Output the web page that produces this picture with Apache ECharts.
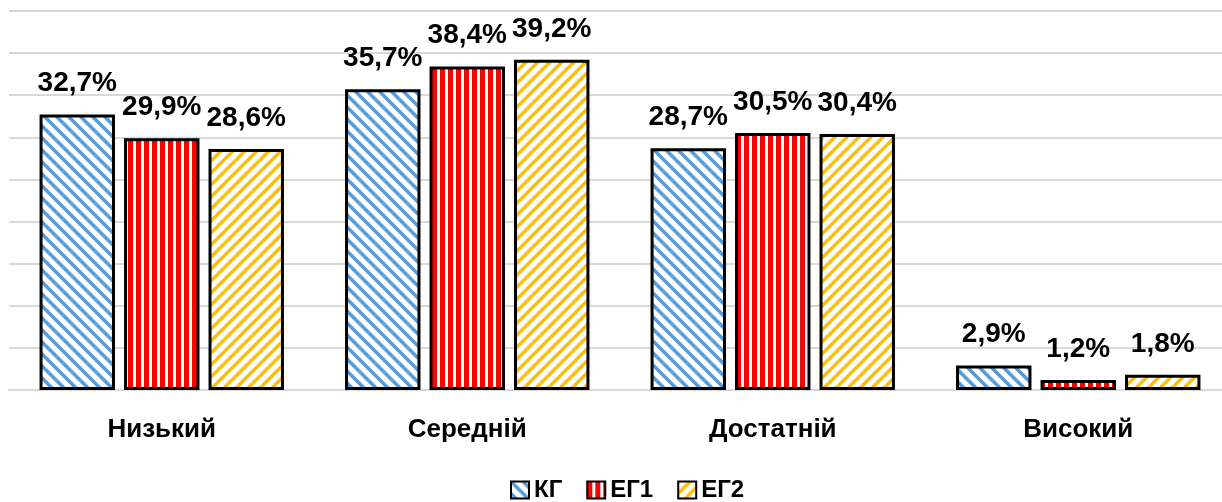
<!DOCTYPE html>
<html>
<head>
    <meta charset="utf-8">
    <title>Рівні</title>
    <script src="https://cdn.jsdelivr.net/npm/echarts@6/dist/echarts.min.js"></script>
    <style>
        html, body { margin: 0; padding: 0; background: #fff; overflow: hidden; }
        #chart1 { width: 1240px; height: 502px; }
    </style>
</head>
<body>
<div id="chart1"></div>
<script type="text/javascript">
    // дані з рисунка
    var categories = ['Низький', 'Середній', 'Достатній', 'Високий'];
    var seriesNames = ['КГ', 'ЕГ1', 'ЕГ2'];
    var kgValues = [32.7, 35.7, 28.7, 2.9];
    var eg1Values = [29.9, 38.4, 30.5, 1.2];
    var eg2Values = [28.6, 39.2, 30.4, 1.8];

    // штрихування як у Excel
    function diagPattern(color, back) {
        var s = 12;
        var c = document.createElement('canvas');
        c.width = s; c.height = s;
        var ctx = c.getContext('2d');
        ctx.fillStyle = '#fff';
        ctx.fillRect(0, 0, s, s);
        ctx.strokeStyle = color;
        ctx.lineWidth = 3.5;
        ctx.beginPath();
        if (back) {
            ctx.moveTo(-s, 0); ctx.lineTo(2 * s, 3 * s);
            ctx.moveTo(-s, -s); ctx.lineTo(2 * s, 2 * s);
            ctx.moveTo(0, -s); ctx.lineTo(3 * s, 2 * s);
        } else {
            ctx.moveTo(-s, s); ctx.lineTo(2 * s, -2 * s);
            ctx.moveTo(-s, 2 * s); ctx.lineTo(2 * s, -s);
            ctx.moveTo(0, 2 * s); ctx.lineTo(3 * s, -s);
        }
        ctx.stroke();
        return { image: c, repeat: 'repeat' };
    }
    function vertPattern(color) {
        var c = document.createElement('canvas');
        c.width = 8; c.height = 8;
        var ctx = c.getContext('2d');
        ctx.fillStyle = '#fff';
        ctx.fillRect(0, 0, 8, 8);
        ctx.fillStyle = color;
        ctx.fillRect(0, 0, 5, 8);
        return { image: c, repeat: 'repeat' };
    }

    var font = '"Liberation Sans", Arial, sans-serif';
    function pct(p) {
        return p.value.toFixed(1).replace('.', ',') + '%';
    }
    function makeSeries(name, data, fill) {
        return {
            name: name,
            type: 'bar',
            data: data,
            barGap: '12%',
            barCategoryGap: '20%',
            itemStyle: { color: fill, borderColor: '#000', borderWidth: 3 },
            label: {
                show: true,
                position: 'top',
                distance: 17,
                formatter: pct,
                color: '#000',
                fontFamily: font,
                fontWeight: 'bold',
                fontSize: 28
            }
        };
    }

    var myChart1 = echarts.init(document.getElementById('chart1'));
    myChart1.setOption({
        animation: false,
        backgroundColor: '#fff',
        grid: { left: 9, top: 11, right: 9, bottom: 112 },
        legend: {
            bottom: -5,
            left: 505,
            itemWidth: 18,
            itemHeight: 17,
            itemGap: 24,
            itemTextGap: 5,
            icon: 'rect',
            textStyle: { fontFamily: font, fontWeight: 'bold', fontSize: 24, color: '#000' },
            data: seriesNames
        },
        xAxis: {
            type: 'category',
            data: categories,
            axisLine: { lineStyle: { color: '#D9D9D9', width: 2 } },
            axisTick: { show: false },
            axisLabel: { margin: 27, color: '#000', fontFamily: font, fontWeight: 'bold', fontSize: 26 }
        },
        yAxis: {
            type: 'value',
            min: 0,
            max: 45,
            interval: 5,
            axisLabel: { show: false },
            axisLine: { show: false },
            axisTick: { show: false },
            splitLine: { lineStyle: { color: '#D9D9D9', width: 2 } }
        },
        series: [
            makeSeries(seriesNames[0], kgValues, diagPattern('#5B9BD5', true)),
            makeSeries(seriesNames[1], eg1Values, vertPattern('#FF0000')),
            makeSeries(seriesNames[2], eg2Values, diagPattern('#FFC000', false))
        ]
    });
</script>
</body>
</html>
